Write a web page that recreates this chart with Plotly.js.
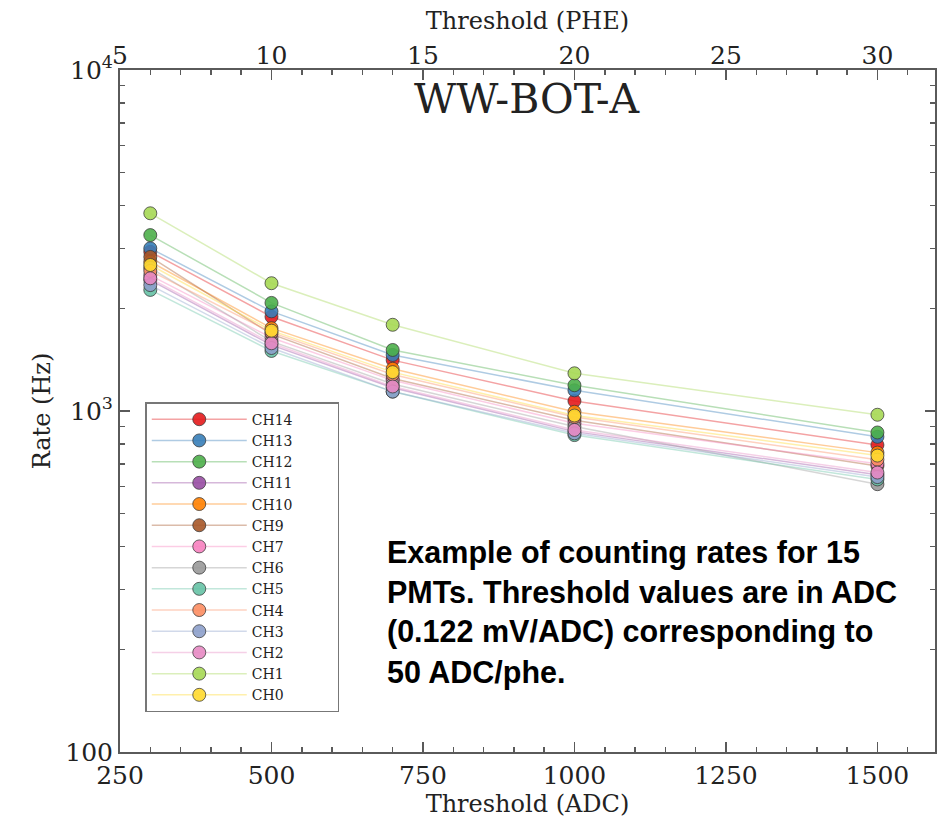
<!DOCTYPE html>
<html>
<head>
<meta charset="utf-8">
<script src="https://cdn.plot.ly/plotly-3.0.1.min.js"></script>
<style>html,body{margin:0;padding:0;background:#fff;}#chart{width:942px;height:821px;}</style>
</head>
<body>
<div id="chart"></div>
<script>
// Threshold values (ADC)
const thresholdADC = [300, 500, 700, 1000, 1500];
const adcPerPhe = 50;

// Channel names in legend order
const channels = ["CH14","CH13","CH12","CH11","CH10","CH9","CH7","CH6","CH5","CH4","CH3","CH2","CH1","CH0"];

// Counting rates (Hz)
const CH14 = [2930, 1890, 1410, 1070, 795];
const CH13 = [3000, 1960, 1460, 1150, 840];
const CH12 = [3280, 2075, 1510, 1190, 865];
const CH11 = [2420, 1560, 1170, 870, 650];
const CH10 = [2740, 1750, 1330, 995, 755];
const CH9  = [2830, 1680, 1245, 940, 690];
const CH7  = [2500, 1640, 1230, 920, 700];
const CH6  = [2630, 1600, 1200, 900, 610];
const CH5  = [2265, 1500, 1140, 850, 630];
const CH4  = [2575, 1700, 1280, 960, 720];
const CH3  = [2340, 1530, 1140, 860, 640];
const CH2  = [2450, 1580, 1180, 880, 660];
const CH1  = [3800, 2370, 1790, 1290, 975];
const CH0  = [2680, 1720, 1300, 970, 740];

const rates = {CH14, CH13, CH12, CH11, CH10, CH9, CH7, CH6, CH5, CH4, CH3, CH2, CH1, CH0};

const colors = {
  CH14:[228,26,28], CH13:[55,126,184], CH12:[77,175,74], CH11:[152,78,163],
  CH10:[255,127,0], CH9:[166,86,40], CH7:[247,129,191], CH6:[153,153,153],
  CH5:[102,194,165], CH4:[252,141,98], CH3:[141,160,203], CH2:[231,138,195],
  CH1:[166,216,84], CH0:[255,217,47]
};
const rgba = (c,a) => `rgba(${c[0]},${c[1]},${c[2]},${a})`;
const pad = '\u00a0'.repeat(9);

const traces = channels.map(name => ({
  x: thresholdADC,
  y: rates[name],
  name: name + pad,
  type: 'scatter',
  mode: 'lines+markers',
  line: {color: rgba(colors[name], 0.4), width: 1.5},
  marker: {color: rgba(colors[name], 0.9), size: 13,
           line: {color: 'rgba(55,55,55,0.75)', width: 1}},
  xaxis: 'x', yaxis: 'y'
}));

// invisible helper trace so the top (PHE) axis is drawn
traces.push({
  x: thresholdADC.map(v => v / adcPerPhe), y: CH1,
  xaxis: 'x2', yaxis: 'y', mode: 'markers',
  marker: {opacity: 0}, showlegend: false, hoverinfo: 'skip'
});

const serif = "DejaVu Serif, Liberation Serif, serif";
const axisColor = '#5a5a5a';
const tickFont = {family: serif, size: 25, color: '#222'};
const titleFont = {family: serif, size: 24, color: '#222'};

const xRange = [250, 1595];

const minorY = [];
[100, 1000].forEach(d => { for (let k = 2; k <= 9; k++) minorY.push(d * k); });

const noteLines = [
  "Example of counting rates for 15",
  "PMTs. Threshold values are in ADC",
  "(0.122 mV/ADC) corresponding to",
  "50 ADC/phe."
];
const noteY = [0.293, 0.2346, 0.176, 0.117];

const annotations = noteLines.map((t, i) => ({
  text: '<b>' + t + '</b>', xref: 'paper', yref: 'paper',
  x: 0.325, y: noteY[i], xanchor: 'left', yanchor: 'middle',
  showarrow: false, font: {family: 'Liberation Sans, Arial, sans-serif', size: 30.5, color: '#000'}
}));
annotations.push({
  text: 'WW-BOT-A', xref: 'paper', yref: 'paper', x: 0.5, y: 0.958,
  xanchor: 'center', yanchor: 'middle', showarrow: false,
  font: {family: serif, size: 41, color: '#222'}
});

const layout = {
  width: 942, height: 821,
  margin: {l: 120, r: 7, t: 70, b: 69},
  paper_bgcolor: '#fff', plot_bgcolor: '#fff',
  showlegend: true,
  legend: {
    x: 0.031, y: 0.513, xanchor: 'left', yanchor: 'top',
    bgcolor: '#fff', bordercolor: '#777', borderwidth: 1.5,
    font: {family: serif, size: 14, color: '#222'},
    itemwidth: 95, tracegroupgap: 0
  },
  xaxis: {
    range: xRange, showgrid: false, zeroline: false,
    showline: true, linecolor: axisColor, linewidth: 2, mirror: true,
    ticks: 'inside', ticklen: 10, tickcolor: axisColor, tickwidth: 1.5,
    tickmode: 'array', tickvals: [250, 500, 750, 1000, 1250, 1500],
    minor: {ticks: 'inside', ticklen: 5, tickcolor: axisColor, dtick: 50, tick0: 250, showgrid: false},
    tickfont: tickFont,
    title: {text: 'Threshold (ADC)', font: titleFont, standoff: 4}
  },
  xaxis2: {
    overlaying: 'x', side: 'top', anchor: 'y',
    range: xRange.map(v => v / adcPerPhe), showgrid: false, zeroline: false,
    showline: false,
    ticks: 'inside', ticklen: 10, tickcolor: axisColor, tickwidth: 1.5,
    tickmode: 'array', tickvals: [5, 10, 15, 20, 25, 30],
    minor: {ticks: 'inside', ticklen: 5, tickcolor: axisColor, dtick: 1, tick0: 5, showgrid: false},
    tickfont: tickFont,
    title: {text: 'Threshold (PHE)', font: titleFont, standoff: 4}
  },
  yaxis: {
    type: 'log', range: [2, 4], showgrid: false, zeroline: false,
    showline: true, linecolor: axisColor, linewidth: 2, mirror: 'ticks',
    ticks: 'inside', ticklen: 10, tickcolor: axisColor, tickwidth: 1.5,
    tickmode: 'array', tickvals: [100, 1000, 10000],
    ticktext: ['100', '10<sup>3</sup>', '10<sup>4</sup>'],
    minor: {ticks: 'inside', ticklen: 5, tickcolor: axisColor, tickmode: 'array', tickvals: minorY, showgrid: false},
    tickfont: tickFont,
    title: {text: 'Rate (Hz)', font: titleFont, standoff: 8}
  },
  annotations: annotations
};

Plotly.newPlot('chart', traces, layout, {staticPlot: true, displayModeBar: false});
</script>
</body>
</html>
